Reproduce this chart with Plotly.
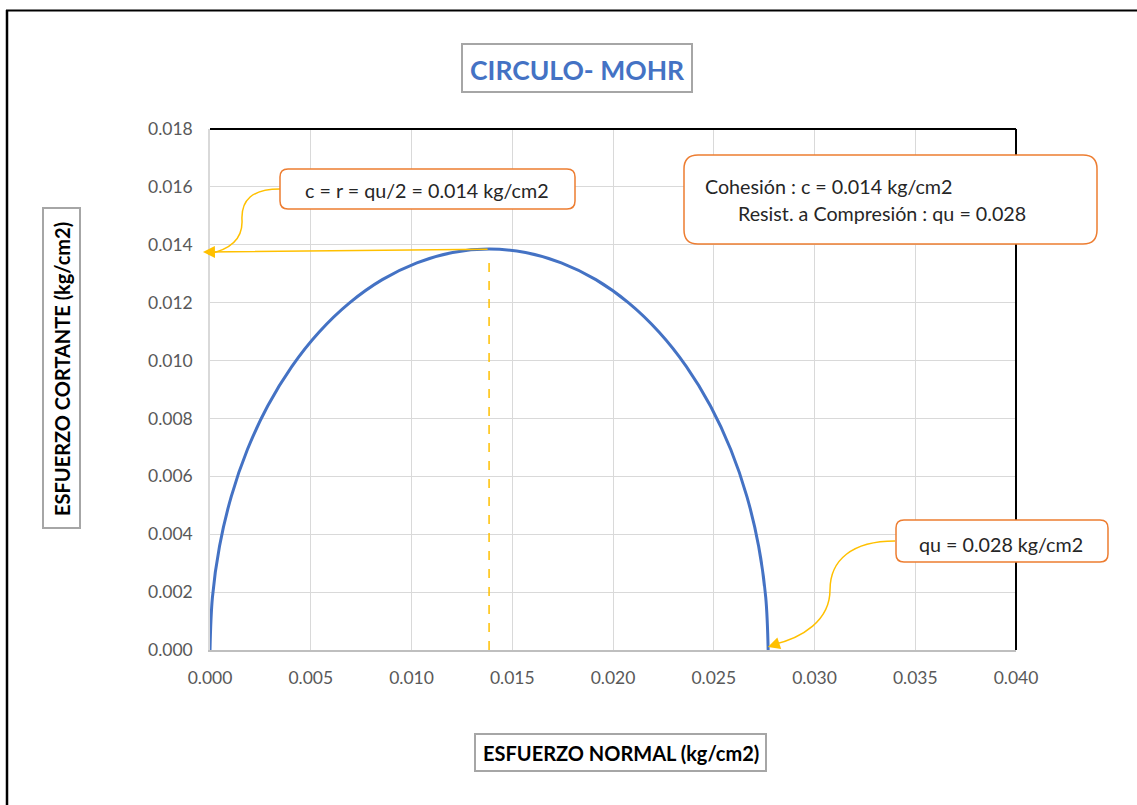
import plotly.graph_objects as go

# ---- data ----
sigma = [0.0, 0.000119, 0.000472, 0.001054, 0.001856, 0.002862, 0.004057, 0.005419,
         0.006925, 0.008550, 0.010265, 0.012042, 0.013850, 0.015658, 0.017435, 0.019150,
         0.020775, 0.022281, 0.023643, 0.024838, 0.025844, 0.026646, 0.027228, 0.027581, 0.0277]
tau = [0.0, 0.001808, 0.003585, 0.005300, 0.006925, 0.008431, 0.009793, 0.010988,
       0.011994, 0.012796, 0.013378, 0.013731, 0.013850, 0.013731, 0.013378, 0.012796,
       0.011994, 0.010988, 0.009793, 0.008431, 0.006925, 0.005300, 0.003585, 0.001808, 0.0]
c_val = 0.01385
qu_val = 0.0277
x_ticks = [0.000, 0.005, 0.010, 0.015, 0.020, 0.025, 0.030, 0.035, 0.040]
y_ticks = [0.000, 0.002, 0.004, 0.006, 0.008, 0.010, 0.012, 0.014, 0.016, 0.018]

title_text = "CIRCULO- MOHR"
xtitle = "ESFUERZO NORMAL (kg/cm2)"
ytitle = "ESFUERZO CORTANTE (kg/cm2)"
label_c = "c = r = qu/2 = 0.014 kg/cm2"
label_coh1 = "Cohesión : c = 0.014 kg/cm2"
label_coh2 = "Resist. a Compresión : qu = 0.028"
label_qu = "qu = 0.028 kg/cm2"

W, H = 1137, 805
FONT = "Lato"
BLUE = "#4472C4"
GOLD = "#FFC000"
ORANGE = "#ED7D31"
BOXFONT = 19.7


def px(x):
    return x / W


def py(y):
    return 1 - y / H


def P(x, y):
    return f"{px(x):.5f},{py(y):.5f}"


def rrect(x0, y0, x1, y1, r):
    return (f"M {P(x0 + r, y0)} L {P(x1 - r, y0)} Q {P(x1, y0)} {P(x1, y0 + r)} "
            f"L {P(x1, y1 - r)} Q {P(x1, y1)} {P(x1 - r, y1)} "
            f"L {P(x0 + r, y1)} Q {P(x0, y1)} {P(x0, y1 - r)} "
            f"L {P(x0, y0 + r)} Q {P(x0, y0)} {P(x0 + r, y0)} Z")


fig = go.Figure()

fig.add_trace(go.Scatter(x=sigma, y=tau, mode="lines",
                         line=dict(color=BLUE, width=3, shape="spline", smoothing=1),
                         hoverinfo="skip", showlegend=False))
fig.add_trace(go.Scatter(x=[c_val, c_val], y=[0, c_val * 0.985], mode="lines",
                         line=dict(color=GOLD, width=1.5, dash="dash"),
                         hoverinfo="skip", showlegend=False))

L, R, T, B = 210, 1016, 129, 650

shapes = []
# outer border lines (top / left)
shapes.append(dict(type="line", xref="paper", yref="paper", x0=px(6), x1=1.0, y0=py(10.5), y1=py(10.5),
                   line=dict(color="black", width=2)))
shapes.append(dict(type="line", xref="paper", yref="paper", x0=px(7), x1=px(7), y0=py(10), y1=0,
                   line=dict(color="black", width=2.5)))
# plot area top & right black borders
shapes.append(dict(type="line", xref="x domain", yref="y domain", x0=0, x1=1, y0=1, y1=1,
                   line=dict(color="black", width=2)))
shapes.append(dict(type="line", xref="x domain", yref="y domain", x0=1, x1=1, y0=0, y1=1,
                   line=dict(color="black", width=2)))
# title box
shapes.append(dict(type="rect", xref="paper", yref="paper", x0=px(462), x1=px(692), y0=py(92), y1=py(44),
                   line=dict(color="#A6A6A6", width=2), fillcolor="white"))
# x title box
shapes.append(dict(type="rect", xref="paper", yref="paper", x0=px(475), x1=px(766), y0=py(771), y1=py(734),
                   line=dict(color="#A6A6A6", width=2), fillcolor="white"))
# y title box
shapes.append(dict(type="rect", xref="paper", yref="paper", x0=px(43), x1=px(80), y0=py(528), y1=py(208),
                   line=dict(color="#A6A6A6", width=2), fillcolor="white"))
# callout connectors
shapes.append(dict(type="path", xref="paper", yref="paper",
                   path=f"M {P(280,189)} C {P(252,189)} {P(241,200)} {P(242,220)} C {P(243,240)} {P(228,250)} {P(208,254)}",
                   line=dict(color=GOLD, width=1.5)))
shapes.append(dict(type="path", xref="paper", yref="paper",
                   path=f"M {P(895,541)} C {P(852,541)} {P(830,560)} {P(830,590)} C {P(830,620)} {P(803,638)} {P(772,645)}",
                   line=dict(color=GOLD, width=1.5)))
# callout boxes
shapes.append(dict(type="path", xref="paper", yref="paper", path=rrect(280, 169, 575, 209, 8),
                   line=dict(color=ORANGE, width=1.5), fillcolor="white"))
shapes.append(dict(type="path", xref="paper", yref="paper", path=rrect(684, 155, 1097, 244, 14),
                   line=dict(color=ORANGE, width=1.5), fillcolor="white"))
shapes.append(dict(type="path", xref="paper", yref="paper", path=rrect(896, 520, 1108, 562, 8),
                   line=dict(color=ORANGE, width=1.5), fillcolor="white"))

annotations = []
annotations.append(dict(xref="paper", yref="paper", x=px(577), y=py(70), text=f"<b>{title_text}</b>",
                        showarrow=False, font=dict(family=FONT, size=26.5, color=BLUE),
                        xanchor="center", yanchor="middle"))
annotations.append(dict(xref="paper", yref="paper", x=px(621), y=py(753), text=f"<b>{xtitle}</b>",
                        showarrow=False, font=dict(family=FONT, size=20, color="black"),
                        xanchor="center", yanchor="middle"))
annotations.append(dict(xref="paper", yref="paper", x=px(62), y=py(369), text=f"<b>{ytitle}</b>",
                        showarrow=False, textangle=-90, font=dict(family=FONT, size=20, color="black"),
                        xanchor="center", yanchor="middle"))
annotations.append(dict(xref="paper", yref="paper", x=px(427), y=py(190), text=label_c,
                        showarrow=False, font=dict(family=FONT, size=BOXFONT, color="#262626"),
                        xanchor="center", yanchor="middle"))
annotations.append(dict(xref="paper", yref="paper", x=px(703), y=py(186), text=label_coh1,
                        showarrow=False, font=dict(family=FONT, size=BOXFONT, color="#262626"),
                        xanchor="left", yanchor="middle"))
annotations.append(dict(xref="paper", yref="paper", x=px(736), y=py(213), text=label_coh2,
                        showarrow=False, font=dict(family=FONT, size=BOXFONT, color="#262626"),
                        xanchor="left", yanchor="middle"))
annotations.append(dict(xref="paper", yref="paper", x=px(1001), y=py(544), text=label_qu,
                        showarrow=False, font=dict(family=FONT, size=BOXFONT, color="#262626"),
                        xanchor="center", yanchor="middle"))
# horizontal arrow from top of circle to the y axis
annotations.append(dict(x=-0.00035, y=0.01375, xref="x", yref="y", ax=c_val, ay=c_val,
                        axref="x", ayref="y", text="", showarrow=True, arrowhead=2,
                        arrowsize=1.6, arrowwidth=1.5, arrowcolor=GOLD, standoff=0))
# arrowhead at end of the qu connector
annotations.append(dict(x=qu_val * 0.9995, y=0.0001, xref="x", yref="y", ax=12, ay=-4,
                        text="", showarrow=True, arrowhead=2, arrowsize=1.6, arrowwidth=1.5,
                        arrowcolor=GOLD, standoff=0))

fig.update_layout(
    width=W, height=H, autosize=False,
    margin=dict(l=0, r=0, t=0, b=0, pad=0),
    paper_bgcolor="white", plot_bgcolor="white",
    font=dict(family=FONT, size=17.5, color="#595959"),
    shapes=shapes, annotations=annotations,
    xaxis=dict(domain=[px(L), px(R)], range=[0, 0.04], tickvals=x_ticks, automargin=False,
               ticktext=[f"{v:.3f}" for v in x_ticks], showgrid=True, gridcolor="#D9D9D9",
               gridwidth=1, showline=True, linecolor="#BFBFBF", linewidth=1.5, zeroline=False,
               ticks="", ticklabelstandoff=11, tickfont=dict(family=FONT, size=17.5, color="#595959")),
    yaxis=dict(domain=[py(B), py(T)], range=[0, 0.018], tickvals=y_ticks, automargin=False,
               ticktext=[f"{v:.3f}" for v in y_ticks], showgrid=True, gridcolor="#D9D9D9",
               gridwidth=1, showline=True, linecolor="#D9D9D9", linewidth=1.5, zeroline=False,
               ticks="", ticklabelstandoff=12, tickfont=dict(family=FONT, size=17.5, color="#595959")),
)

fig.write_html("out.html")
